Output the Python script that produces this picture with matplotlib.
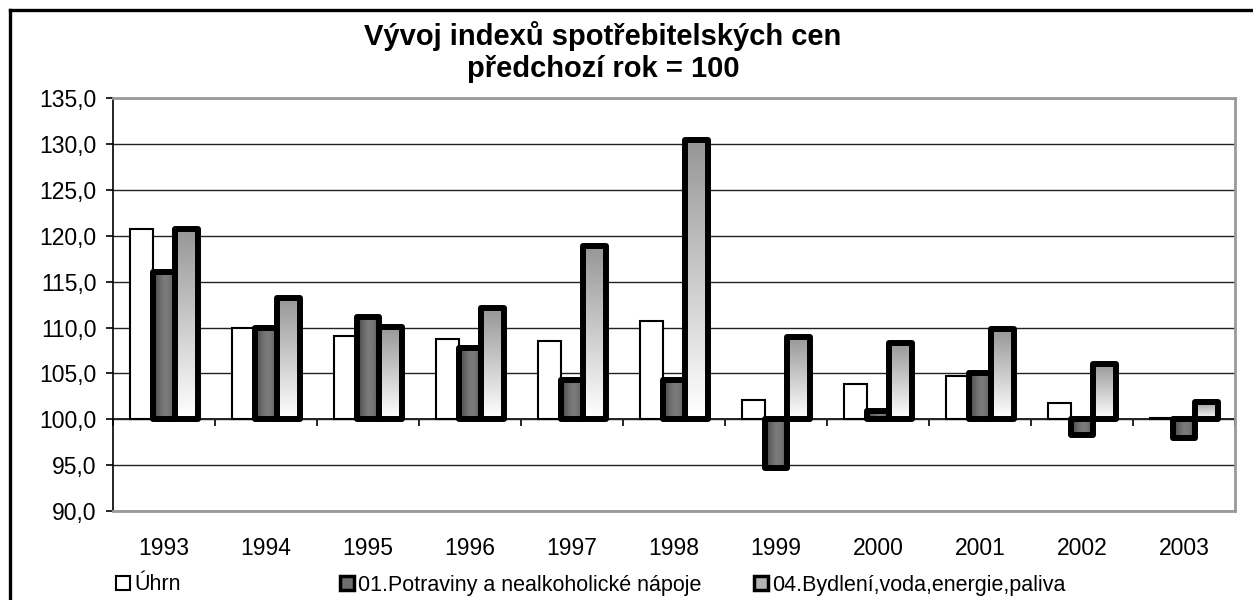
import matplotlib
matplotlib.use('Agg')
import matplotlib.pyplot as plt
import numpy as np
from matplotlib.patches import Patch
from matplotlib.lines import Line2D
from matplotlib.ticker import FuncFormatter

# data
roky = ['1993', '1994', '1995', '1996', '1997', '1998', '1999', '2000', '2001', '2002', '2003']
uhrn = [120.8, 110.0, 109.1, 108.8, 108.5, 110.7, 102.1, 103.9, 104.7, 101.8, 100.1]
potraviny = [116.1, 110.0, 111.1, 107.8, 104.3, 104.3, 94.7, 100.9, 105.0, 98.3, 98.0]
bydleni = [120.8, 113.2, 110.1, 112.1, 118.9, 130.4, 109.0, 108.3, 109.8, 106.0, 101.9]
nazvy = ['Úhrn', '01.Potraviny a nealkoholické nápoje', '04.Bydlení,voda,energie,paliva']

ZAKLAD = 100.0
plt.rcParams['font.family'] = ['Liberation Sans', 'DejaVu Sans']

W, H = 1253, 600
fig = plt.figure(figsize=(W / 100, H / 100), dpi=100)
ax = fig.add_axes([113 / W, 1 - 511 / H, (1235 - 113) / W, (511 - 98.3) / H])

x = np.arange(len(roky))
sirka = 0.225


def sloupce(hodnoty, posun, lw):
    vysky = [v - ZAKLAD for v in hodnoty]
    return ax.bar(x + posun * sirka, vysky, sirka, bottom=ZAKLAD,
                  facecolor='none', edgecolor='black', linewidth=lw,
                  joinstyle='round', zorder=3)


# Úhrn - bily
b1 = ax.bar(x - sirka, [v - ZAKLAD for v in uhrn], sirka, bottom=ZAKLAD,
            facecolor='white', edgecolor='black', linewidth=1.5, zorder=3)
b2 = sloupce(potraviny, 0, 4.3)
b3 = sloupce(bydleni, 1, 4.3)

# prechody barev
prof = np.array([0.30, 0.35, 0.40, 0.45, 0.48, 0.48, 0.45, 0.40, 0.35])
grad_h = np.tile(prof, (2, 1))
grad_v = np.linspace(0.59, 1.0, 64).reshape(-1, 1)

for bar in b2:
    x0, y0, w, h = bar.get_x(), bar.get_y(), bar.get_width(), bar.get_height()
    im = ax.imshow(grad_h, cmap='gray', vmin=0, vmax=1, aspect='auto',
                   extent=(x0, x0 + w, min(y0, y0 + h), max(y0, y0 + h)),
                   zorder=2.5, interpolation='bilinear')
    im.set_clip_path(bar)

for bar in b3:
    x0, y0, w, h = bar.get_x(), bar.get_y(), bar.get_width(), bar.get_height()
    im = ax.imshow(grad_v, cmap='gray', vmin=0, vmax=1, aspect='auto',
                   extent=(x0, x0 + w, y0, y0 + h), origin='upper',
                   zorder=2.5, interpolation='bilinear')
    im.set_clip_path(bar)

ax.set_xlim(-0.5, len(roky) - 0.5)
ax.set_ylim(90, 135)
ax.set_yticks(np.arange(90, 136, 5))
ax.yaxis.set_major_formatter(FuncFormatter(lambda v, p: f'{v:.1f}'.replace('.', ',')))
ax.yaxis.grid(True, color='#222222', linewidth=1.0, zorder=0)
ax.set_axisbelow(True)
ax.tick_params(axis='y', direction='out', length=5, width=1.2, pad=7, labelsize=16.5)

ax.set_xticks(x)
ax.set_xticklabels(roky)
ax.tick_params(axis='x', length=0, pad=19, labelsize=16.5)

for s in ['top', 'right', 'bottom']:
    ax.spines[s].set_color('#999999')
    ax.spines[s].set_linewidth(2)
ax.spines['left'].set_linewidth(1.2)

# osa x na hodnote 100
sec = ax.secondary_xaxis((ZAKLAD - 90) / 45)
sec.set_xticks(np.arange(len(roky) + 1) - 0.5)
sec.tick_params(axis='x', direction='out', length=5, width=1.2, labelbottom=False)
sec.spines['bottom'].set_linewidth(1.2)

fig.text(603 / W, 1 - 52 / H, 'Vývoj indexů spotřebitelských cen\npředchozí rok = 100',
         ha='center', va='center', fontsize=21, fontweight='bold', linespacing=1.22)

# legenda
handles = [
    Patch(facecolor='white', edgecolor='black', linewidth=1.5),
    Patch(facecolor='#6e6e6e', edgecolor='black', linewidth=2.5),
    Patch(facecolor='#b4b4b4', edgecolor='black', linewidth=2.5),
]
pozice = [116, 340, 754]
for hnd, naz, px in zip(handles, nazvy, pozice):
    fig.legend([hnd], [naz], loc='center left', bbox_to_anchor=(px / W, 1 - 585 / H),
               frameon=False, handlelength=0.65, handleheight=0.65, handletextpad=0.2,
               borderpad=0, borderaxespad=0, prop={'size': 15.5})

# ramecek grafu
fig.add_artist(Line2D([9.5 / W, 9.5 / W], [0, 1 - 10 / H], color='black', linewidth=2.4,
                      transform=fig.transFigure))
fig.add_artist(Line2D([9.5 / W, 1], [1 - 10 / H, 1 - 10 / H], color='black', linewidth=2.4,
                      transform=fig.transFigure))

fig.savefig('out.png', dpi=100, facecolor='white')
plt.close(fig)
